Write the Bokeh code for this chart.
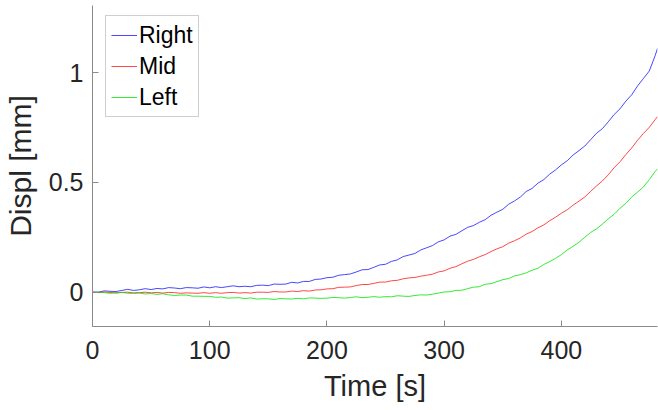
from bokeh.plotting import figure
from bokeh.models import Range1d, FixedTicker
from bokeh.embed import file_html
from bokeh.resources import INLINE

time_s = [0, 5, 10, 15, 20, 25, 30, 35, 40, 45,
          50, 55, 60, 65, 70, 75, 80, 85, 90, 95,
          100, 105, 110, 115, 120, 125, 130, 135, 140, 145,
          150, 155, 160, 165, 170, 175, 180, 185, 190, 195,
          200, 205, 210, 215, 220, 225, 230, 235, 240, 245,
          250, 255, 260, 265, 270, 275, 280, 285, 290, 295,
          300, 305, 310, 315, 320, 325, 330, 335, 340, 345,
          350, 355, 360, 365, 370, 375, 380, 385, 390, 395,
          400, 405, 410, 415, 420, 425, 430, 435, 440, 445,
          450, 455, 460, 465, 470, 475, 480, 482]

right = [0.002, 0.001, 0.007, 0.005, 0.004, 0.009, 0.014, 0.009, 0.012, 0.017,
         0.013, 0.018, 0.016, 0.022, 0.020, 0.017, 0.022, 0.021, 0.019, 0.025,
         0.021, 0.026, 0.022, 0.026, 0.030, 0.026, 0.028, 0.026, 0.032, 0.033,
         0.031, 0.038, 0.037, 0.038, 0.046, 0.043, 0.050, 0.050, 0.059, 0.061,
         0.067, 0.069, 0.078, 0.081, 0.084, 0.093, 0.103, 0.104, 0.114, 0.125,
         0.128, 0.141, 0.148, 0.163, 0.170, 0.177, 0.193, 0.203, 0.213, 0.230,
         0.239, 0.256, 0.264, 0.280, 0.296, 0.304, 0.319, 0.331, 0.351, 0.365,
         0.378, 0.401, 0.416, 0.434, 0.459, 0.473, 0.497, 0.513, 0.538, 0.557,
         0.580, 0.599, 0.625, 0.645, 0.666, 0.695, 0.724, 0.745, 0.776, 0.809,
         0.835, 0.870, 0.899, 0.939, 0.973, 1.007, 1.077, 1.110]

mid = [0.001, -0.001, 0.002, 0.000, -0.003, 0.000, 0.001, -0.002, -0.001, 0.001,
       -0.002, 0.000, -0.003, 0.000, -0.001, -0.004, -0.002, -0.003, -0.004, -0.001,
       -0.004, -0.001, -0.004, -0.001, 0.000, -0.003, -0.001, -0.003, 0.001, 0.001,
       0.000, 0.004, 0.002, 0.002, 0.006, 0.004, 0.008, 0.006, 0.011, 0.012,
       0.016, 0.017, 0.023, 0.024, 0.025, 0.031, 0.036, 0.036, 0.041, 0.047,
       0.047, 0.053, 0.055, 0.062, 0.066, 0.068, 0.074, 0.078, 0.083, 0.093,
       0.098, 0.110, 0.117, 0.130, 0.142, 0.150, 0.162, 0.172, 0.186, 0.198,
       0.208, 0.224, 0.235, 0.248, 0.265, 0.277, 0.294, 0.307, 0.326, 0.342,
       0.360, 0.376, 0.397, 0.415, 0.434, 0.460, 0.484, 0.507, 0.535, 0.567,
       0.594, 0.627, 0.657, 0.692, 0.723, 0.751, 0.786, 0.800]

left = [-0.001, 0.002, -0.001, -0.004, -0.001, 0.000, -0.004, -0.004, -0.003, -0.007,
        -0.005, -0.009, -0.006, -0.011, -0.014, -0.012, -0.012, -0.017, -0.017, -0.018,
        -0.018, -0.022, -0.021, -0.026, -0.025, -0.024, -0.028, -0.025, -0.030, -0.029,
        -0.029, -0.032, -0.028, -0.029, -0.030, -0.027, -0.029, -0.025, -0.026, -0.027,
        -0.026, -0.023, -0.024, -0.026, -0.023, -0.020, -0.024, -0.022, -0.019, -0.022,
        -0.019, -0.020, -0.015, -0.017, -0.018, -0.014, -0.011, -0.012, -0.008, -0.003,
        0.002, 0.003, 0.009, 0.010, 0.017, 0.024, 0.026, 0.037, 0.040, 0.049,
        0.058, 0.063, 0.075, 0.081, 0.089, 0.101, 0.110, 0.127, 0.140, 0.155,
        0.172, 0.193, 0.210, 0.228, 0.251, 0.273, 0.289, 0.311, 0.335, 0.355,
        0.383, 0.405, 0.434, 0.456, 0.480, 0.513, 0.550, 0.562]

x_ticks = [0, 100, 200, 300, 400]
y_ticks = [0, 0.5, 1]
y_tick_labels = {0: "0", 0.5: "0.5", 1: "1"}

series_names = ["Right", "Mid", "Left"]
series_colors = ["#1a1aff", "#ff1a1a", "#00e600"]

FONT = "Liberation Sans"

p = figure(width=658, height=410, output_backend="svg", toolbar_location=None,
           x_range=Range1d(0, 482), y_range=Range1d(-0.155, 1.305),
           min_border_left=92, min_border_right=1, min_border_top=5,
           min_border_bottom=84, background_fill_color="white",
           border_fill_color="white")
p.outline_line_color = None
p.xgrid.visible = False
p.ygrid.visible = False

for name, ys, col in zip(series_names, [right, mid, left], series_colors):
    p.line(time_s, ys, line_color=col, line_width=1, line_alpha=0.8,
           legend_label=name)

axis_grey = "#8a8a8a"
text_col = "#262626"
for ax in (p.xaxis[0], p.yaxis[0]):
    ax.axis_line_color = axis_grey
    ax.major_tick_line_color = axis_grey
    ax.minor_tick_line_color = None
    ax.major_tick_in = 6
    ax.major_tick_out = 0
    ax.major_label_text_font = FONT
    ax.major_label_text_font_size = "25px"
    ax.major_label_text_color = text_col
    ax.axis_label_text_font = FONT
    ax.axis_label_text_font_style = "normal"
    ax.axis_label_text_color = text_col

p.xaxis.axis_label_text_font_size = "29px"
p.yaxis.axis_label_text_font_size = "30px"
p.xaxis.ticker = FixedTicker(ticks=x_ticks)
p.yaxis.ticker = FixedTicker(ticks=y_ticks)
p.yaxis.major_label_overrides = y_tick_labels
p.xaxis.axis_label = "Time [s]"
p.yaxis.axis_label = "Displ [mm]"
p.xaxis.major_label_standoff = 14
p.xaxis.axis_label_standoff = 8
p.yaxis.major_label_standoff = 9
p.yaxis.axis_label_standoff = 9

lg = p.legend[0]
lg.location = (13, 209)
lg.label_text_font = FONT
lg.label_text_font_size = "23px"
lg.label_text_color = "black"
lg.glyph_width = 26
lg.glyph_height = 28
lg.label_standoff = 2
lg.spacing = 3
lg.padding = 5
lg.margin = 0
lg.border_line_color = "#a0a0a0"
lg.border_line_width = 1
lg.background_fill_color = "white"
lg.background_fill_alpha = 1.0

open("out.html", "w").write(file_html(p, INLINE))
